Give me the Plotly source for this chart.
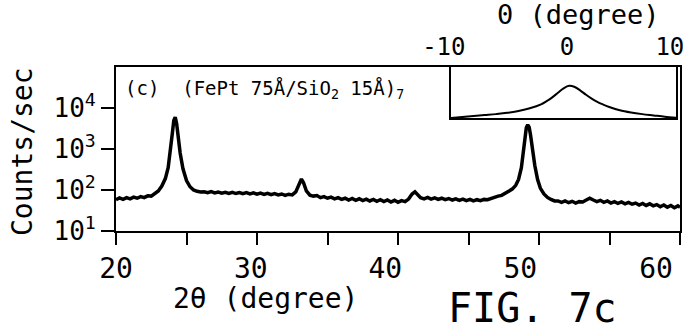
import plotly.graph_objects as go

# Main XRD scan: 2theta (degree) vs counts/sec
two_theta = [20.0, 20.25, 20.5, 20.75, 21.0, 21.25, 21.5, 21.75, 22.0, 22.25, 22.5, 22.75, 23.0, 23.25, 23.5, 23.7, 23.85,
             24.0, 24.1, 24.2, 24.3, 24.4, 24.55, 24.75, 25.0, 25.25, 25.5, 25.75, 26.0, 26.25, 26.5, 26.75, 27.0,
             27.25, 27.5, 27.75, 28.0, 28.25, 28.5, 28.75, 29.0, 29.25, 29.5, 29.75, 30.0, 30.25, 30.5, 30.75, 31.0,
             31.25, 31.5, 31.75, 32.0, 32.25, 32.5, 32.75, 33.0, 33.15, 33.3, 33.5, 33.75, 34.0, 34.25, 34.5, 34.75,
             35.0, 35.25, 35.5, 35.75, 36.0, 36.25, 36.5, 36.75, 37.0, 37.25, 37.5, 37.75, 38.0, 38.25, 38.5, 38.75,
             39.0, 39.25, 39.5, 39.75, 40.0, 40.25, 40.5, 40.75, 41.0, 41.2, 41.4, 41.6, 41.85, 42.1, 42.35, 42.6,
             42.85, 43.1, 43.35, 43.6, 43.85, 44.1, 44.35, 44.6, 44.85, 45.1, 45.35, 45.6, 45.85, 46.1, 46.35, 46.6,
             46.85, 47.1, 47.35, 47.6, 47.85, 48.1, 48.35, 48.55, 48.75, 48.9, 49.0, 49.1, 49.2, 49.3, 49.4, 49.55,
             49.7, 49.9, 50.1, 50.35, 50.6, 50.85, 51.1, 51.35, 51.6, 51.85, 52.1, 52.35, 52.6, 52.85, 53.1, 53.35,
             53.6, 53.85, 54.1, 54.35, 54.6, 54.85, 55.1, 55.35, 55.6, 55.85, 56.1, 56.35, 56.6, 56.85, 57.1, 57.35,
             57.6, 57.85, 58.1, 58.35, 58.6, 58.85, 59.1, 59.35, 59.6, 59.85, 60.0]
counts = [58, 64, 59, 65, 61, 67, 63, 69, 65, 72, 71, 81, 95, 125, 190, 350, 800,
          2500, 5000, 6000, 4200, 2000, 800, 330, 170, 120, 100, 93, 89, 90, 86, 91, 85,
          89, 84, 88, 83, 88, 82, 87, 81, 86, 80, 85, 79, 84, 78, 83, 77,
          82, 76, 80, 74, 79, 76, 90, 140, 185, 150, 95, 75, 71, 73, 65, 69,
          63, 67, 61, 65, 59, 63, 57, 62, 56, 61, 55, 60, 54, 59, 53, 58,
          52, 57, 51, 56, 50, 55, 52, 60, 80, 90, 75, 65, 61, 66, 60, 64,
          59, 63, 58, 62, 57, 61, 56, 60, 55, 59, 54, 58, 55, 59, 58, 63,
          65, 71, 74, 83, 89, 105, 130, 180, 350, 900, 2000, 3300, 3900, 3400, 2200, 900,
          400, 180, 110, 80, 66, 59, 54, 54, 50, 54, 49, 53, 48, 52, 51, 57,
          63, 57, 52, 56, 50, 54, 48, 52, 47, 51, 46, 50, 45, 48, 43, 47,
          42, 46, 41, 44, 39, 43, 38, 42, 37, 41, 38]

# Inset: rocking curve, theta (degree) vs normalised intensity
theta = [-10, -9, -8, -7, -6, -5, -4, -3, -2, -1.5, -1, -0.5, 0, 0.5, 1, 1.5, 2, 2.5, 3, 3.5, 4, 5, 6, 7, 8, 9, 10]
inset_int = [0.0, 0.03, 0.06, 0.09, 0.12, 0.16, 0.22, 0.3, 0.42, 0.52, 0.64, 0.78, 0.92, 1.0, 0.96, 0.85, 0.72,
             0.6, 0.5, 0.42, 0.35, 0.24, 0.17, 0.12, 0.08, 0.04, 0.01]

# tick marks every 5 degrees; labels (as printed, slightly offset in the scan)
x_tickvals = [20, 25, 30, 35, 40, 45, 50, 55, 60]
x_label_pos = [20.0, 29.56, 39.1, 48.67, 58.3]
x_label_text = ["20", "30", "40", "50", "60"]
y_tickvals = [10, 100, 1000, 10000]
y_ticktext = ["10<sup>1</sup>", "10<sup>2</sup>", "10<sup>3</sup>", "10<sup>4</sup>"]
inset_tickvals = [-10, 0.3, 9.45]
inset_ticktext = ["-10\u00a0", "0", "10"]

FONT = "DejaVu Sans Mono"
W, H = 684, 332
L, R, T, B = 116, 4, 67, 101
pw, ph = W - L - R, H - T - B


def px2paper(px, py):
    return (px - L) / pw, (H - B - py) / ph


fig = go.Figure()
fig.add_trace(go.Scatter(x=two_theta, y=counts, mode="lines",
                         line=dict(color="black", width=3.5), xaxis="x", yaxis="y", showlegend=False))
fig.add_trace(go.Scatter(x=theta, y=inset_int, mode="lines", line_shape="spline",
                         line=dict(color="black", width=2), xaxis="x2", yaxis="y2", showlegend=False))
# invisible trace to activate the label axis
fig.add_trace(go.Scatter(x=[20], y=[10], mode="markers", marker=dict(opacity=0), xaxis="x3", yaxis="y",
                         showlegend=False, hoverinfo="skip"))

axis_common = dict(showgrid=False, zeroline=False, automargin=False)

fig.update_layout(
    width=W, height=H,
    margin=dict(l=L, r=R, t=T, b=B, autoexpand=False),
    paper_bgcolor="white", plot_bgcolor="white",
    font=dict(family=FONT, color="black"),
    xaxis=dict(domain=[0, 1], range=[20, 60], tickvals=x_tickvals, showticklabels=False,
               ticks="outside", ticklen=12, tickwidth=2, tickcolor="black",
               showline=True, linewidth=2, linecolor="black", mirror=True, **axis_common),
    xaxis3=dict(domain=[0, 1], range=[20, 60], overlaying="x", anchor="y", side="bottom",
                tickvals=x_label_pos, ticktext=x_label_text, ticks="outside", ticklen=12,
                tickcolor="rgba(0,0,0,0)", showline=False, ticklabeloverflow="allow",
                tickfont=dict(size=28, family=FONT), **axis_common),
    yaxis=dict(domain=[0, 1], type="log", range=[1, 5], tickvals=y_tickvals, ticktext=y_ticktext,
               ticks="outside", ticklen=13, tickwidth=2, tickcolor="black",
               showline=True, linewidth=2, linecolor="black", mirror=True,
               tickfont=dict(size=26, family=FONT), **axis_common),
    xaxis2=dict(domain=[0.594, 0.993], anchor="y2", side="top", range=[-10, 10],
                tickvals=inset_tickvals, ticktext=inset_ticktext, ticks="", ticklabeloverflow="allow",
                showline=True, linewidth=2, linecolor="black", mirror=True,
                tickfont=dict(size=24, family=FONT), **axis_common),
    yaxis2=dict(domain=[0.689, 1.0], anchor="x2", range=[0, 1.58], showticklabels=False, ticks="",
                showline=True, linewidth=2, linecolor="black", mirror=True, **axis_common),
)

annots = []
def add_text(text, px, py, size, angle=0, xanchor="center"):
    x, y = px2paper(px, py)
    annots.append(dict(text=text, x=x, y=y, xref="paper", yref="paper", xanchor=xanchor, yanchor="middle",
                       textangle=angle, showarrow=False, font=dict(size=size, family=FONT)))

add_text("Counts/sec", 22, 152, 28, angle=-90)
add_text("(c)  (FePt 75Å/SiO<sub>2</sub> 15Å)<sub>7</sub>", 123, 89, 19, xanchor="left")
add_text("2θ (degree)", 265, 298, 28)
add_text("FIG. 7c", 532, 308, 40)
add_text("0 (degree)", 578, 15, 27)
fig.update_layout(annotations=annots)

fig.write_html("out.html")
